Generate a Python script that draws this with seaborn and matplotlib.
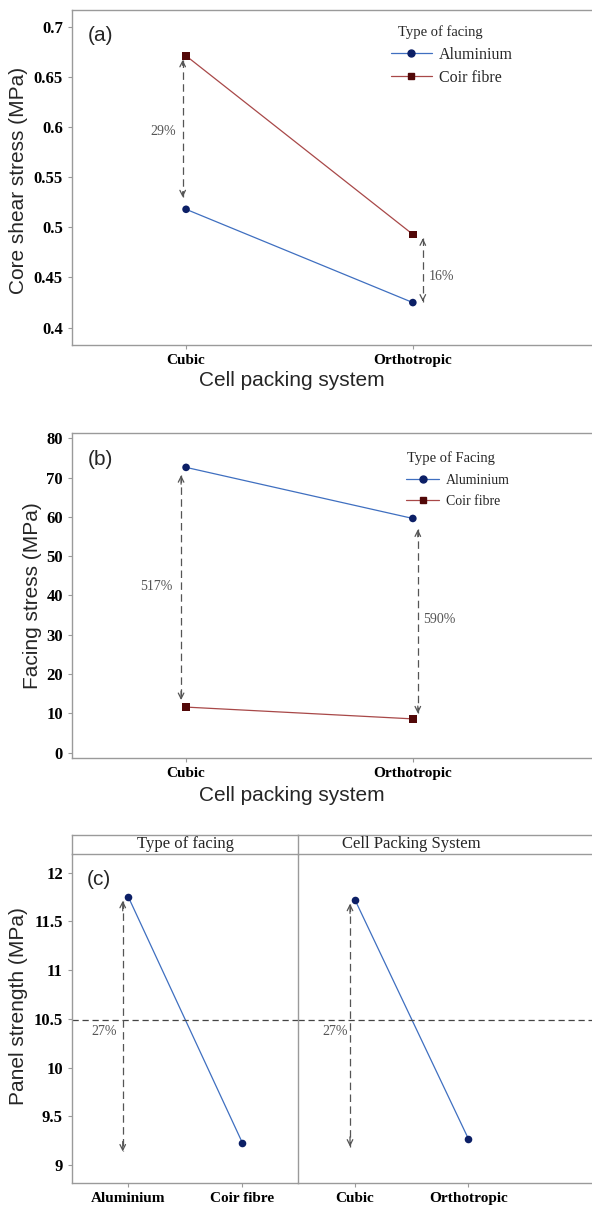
import numpy as np
import pandas as pd
import matplotlib
matplotlib.use("Agg")
import matplotlib.pyplot as plt
from matplotlib.lines import Line2D
import seaborn as sns

# ===== DATA =====
packing = ["Cubic", "Orthotropic"]
facings = ["Aluminium", "Coir fibre"]

core_shear_al = [0.518, 0.425]
core_shear_coir = [0.671, 0.493]

facing_stress_al = [72.6, 59.6]
facing_stress_coir = [11.6, 8.6]

panel_by_facing = [11.75, 9.23]
panel_by_packing = [11.72, 9.27]

pct_a = ["29%", "16%"]
pct_b = ["517%", "590%"]
pct_c = ["27%", "27%"]

# ===== STYLE =====
sns.set_style("ticks")
SERIF = ["Liberation Serif", "DejaVu Serif"]
SANS = ["Liberation Sans", "DejaVu Sans"]
plt.rcParams["font.family"] = SERIF

line_pal = {"Aluminium": "#3f6fc0", "Coir fibre": "#a84848"}
mark_pal = {"Aluminium": "#0c1f66", "Coir fibre": "#520808"}
mark_shape = {"Aluminium": "o", "Coir fibre": "s"}
SPINE = "#9a9a9a"
ARROW = "#555555"

W, H = 592, 1206
fig = plt.figure(figsize=(W / 100, H / 100), dpi=100)


def fax(x0, y0, x1, y1):
    # pixel box -> figure axes
    return fig.add_axes([x0 / W, 1 - y1 / H, (x1 - x0) / W, (y1 - y0) / H])


def style_ax(ax):
    for s in ["left", "bottom", "top", "right"]:
        ax.spines[s].set_color(SPINE)
        ax.spines[s].set_linewidth(1.0)
    ax.tick_params(axis="both", colors=SPINE, length=3, width=0.8,
                   labelcolor="black")
    ax.tick_params(axis="x", labelsize=11)
    ax.tick_params(axis="y", labelsize=12)
    for lab in ax.get_xticklabels() + ax.get_yticklabels():
        lab.set_fontweight("bold")
        lab.set_family(SERIF)


def draw_pair(ax, df, yname):
    df = df.copy()
    df["pos"] = df["packing"].map({c: i for i, c in enumerate(packing)})
    sns.lineplot(data=df, x="pos", y=yname, hue="facing", palette=line_pal,
                 linewidth=0.9, legend=False, ax=ax, sort=False)
    sns.scatterplot(data=df, x="pos", y=yname, hue="facing", style="facing",
                    palette=mark_pal, markers=mark_shape, s=30, linewidth=0,
                    legend=False, ax=ax, zorder=3)
    ax.set_xticks(range(len(packing)))
    ax.set_xticklabels(packing)


def darrow(ax, x, y0, y1):
    ax.plot([x, x], [y0, y1], color=ARROW, lw=0.9, ls=(0, (6, 3.5)))
    for a, b in [(y0, y1), (y1, y0)]:
        ax.annotate("", xy=(x, b), xytext=(x, b + (a - b) * 0.04),
                    arrowprops=dict(arrowstyle="->", color=ARROW, lw=0.9,
                                    mutation_scale=10, shrinkA=0, shrinkB=0))


def legend(ax, title, tx, ty, lx, ly, size, hlen, spacing):
    fig.text(tx / W, 1 - ty / H, title, fontsize=10.5, va="center",
             ha="left")
    handles = [Line2D([], [], color=line_pal[f], lw=0.9, marker=mark_shape[f],
                      markersize=5, markerfacecolor=mark_pal[f],
                      markeredgecolor=mark_pal[f]) for f in facings]
    ax.legend(handles, facings, loc="upper left",
              bbox_to_anchor=(lx / W, 1 - ly / H),
              bbox_transform=fig.transFigure, frameon=False, fontsize=size,
              handlelength=hlen, handletextpad=0.45, labelspacing=spacing,
              borderpad=0, borderaxespad=0)


# ===== (a) =====
df_a = pd.DataFrame({
    "packing": packing * 2,
    "facing": [facings[0]] * 2 + [facings[1]] * 2,
    "shear": core_shear_al + core_shear_coir,
})
ax_a = fax(72, 9.5, 604, 345)
draw_pair(ax_a, df_a, "shear")
ax_a.set_xlim(-0.503, 1.843)
ax_a.set_ylim(0.3827, 0.7172)
ax_a.set_yticks(np.arange(0.4, 0.701, 0.05))
ax_a.set_yticklabels(["0.4", "0.45", "0.5", "0.55", "0.6", "0.65", "0.7"])
style_ax(ax_a)
ax_a.set_xlabel("Cell packing system", family=SANS, fontsize=15)
ax_a.set_ylabel("Core shear stress (MPa)", family=SANS, fontsize=15)
ax_a.xaxis.set_label_coords(0.413, -0.078)
ax_a.yaxis.set_label_coords(-0.083, 0.49)
ax_a.text(0.03, 0.95, "(a)", transform=ax_a.transAxes, family=SANS,
          fontsize=15, va="top")
darrow(ax_a, -0.015, core_shear_coir[0] - 0.004, core_shear_al[0] + 0.012)
darrow(ax_a, 1.044, core_shear_coir[1] - 0.004, core_shear_al[1] + 0.001)
ax_a.text(-0.045, 0.596, pct_a[0], ha="right", va="center", color=ARROW,
          fontsize=10)
ax_a.text(1.07, 0.451, pct_a[1], ha="left", va="center", color=ARROW,
          fontsize=10)
legend(ax_a, "Type of facing", 398, 32, 391, 47, 11.5, 2.55, 0.42)

# ===== (b) =====
df_b = pd.DataFrame({
    "packing": packing * 2,
    "facing": [facings[0]] * 2 + [facings[1]] * 2,
    "stress": facing_stress_al + facing_stress_coir,
})
ax_b = fax(72, 433.3, 604, 758.3)
draw_pair(ax_b, df_b, "stress")
ax_b.set_xlim(-0.503, 1.843)
ax_b.set_ylim(-1.43, 81.27)
ax_b.set_yticks(range(0, 81, 10))
style_ax(ax_b)
ax_b.set_xlabel("Cell packing system", family=SANS, fontsize=15)
ax_b.set_ylabel("Facing stress (MPa)", family=SANS, fontsize=15)
ax_b.xaxis.set_label_coords(0.413, -0.085)
ax_b.yaxis.set_label_coords(-0.056, 0.5)
ax_b.text(0.03, 0.95, "(b)", transform=ax_b.transAxes, family=SANS,
          fontsize=15, va="top")
darrow(ax_b, -0.022, facing_stress_al[0] - 2.0, facing_stress_coir[0] + 1.8)
darrow(ax_b, 1.022, facing_stress_al[1] - 2.8, facing_stress_coir[1] + 1.4)
ax_b.text(-0.06, 42.4, pct_b[0], ha="right", va="center", color=ARROW,
          fontsize=10)
ax_b.text(1.045, 33.9, pct_b[1], ha="left", va="center", color=ARROW,
          fontsize=10)
legend(ax_b, "Type of Facing", 407, 458, 406, 474, 10, 2.4, 0.55)

# ===== (c) =====
ax_c1 = fax(72, 854, 298.3, 1182.7)
ax_c2 = fax(298.3, 854, 604, 1182.7)
strip1 = fax(72, 835, 298.3, 854)
strip2 = fax(298.3, 835, 604, 854)

main_effects = [(ax_c1, facings, panel_by_facing, (-0.494, 1.491)),
                (ax_c2, packing, panel_by_packing, (-0.5, 2.196))]
grand_mean = np.mean(panel_by_facing)
for ax, cats, vals, xl in main_effects:
    dfc = pd.DataFrame({"level": cats, "strength": vals,
                        "pos": range(len(cats))})
    sns.lineplot(data=dfc, x="pos", y="strength", color=line_pal["Aluminium"],
                 linewidth=0.9, ax=ax)
    sns.scatterplot(data=dfc, x="pos", y="strength",
                    color=mark_pal["Aluminium"], s=30, linewidth=0, ax=ax,
                    zorder=3)
    ax.axhline(grand_mean, color="#444444", lw=0.9, ls=(0, (5, 3)))
    ax.set_xticks(range(len(cats)))
    ax.set_xticklabels(cats)
    ax.set_xlim(*xl)
    ax.set_ylim(8.82, 12.19)
    ax.set_xlabel("")
    ax.set_ylabel("")
    style_ax(ax)
    ax.spines["top"].set_visible(False)

ax_c1.set_yticks([9, 9.5, 10, 10.5, 11, 11.5, 12])
ax_c1.set_yticklabels(["9", "9.5", "10", "10.5", "11", "11.5", "12"])
for lab in ax_c1.get_yticklabels():
    lab.set_fontweight("bold")
ax_c1.spines["right"].set_visible(False)
ax_c2.tick_params(axis="y", left=False, labelleft=False)
ax_c1.set_ylabel("Panel strength (MPa)", family=SANS, fontsize=15)
ax_c1.yaxis.set_label_coords(-0.194, 0.537)
ax_c1.text(0.065, 0.95, "(c)", transform=ax_c1.transAxes, family=SANS,
           fontsize=15, va="top")

darrow(ax_c1, -0.049, panel_by_facing[0] - 0.04, 9.14)
darrow(ax_c2, -0.044, panel_by_packing[0] - 0.04, 9.19)
ax_c1.text(-0.10, 10.37, pct_c[0], ha="right", va="center", color=ARROW,
           fontsize=10)
ax_c2.text(-0.06, 10.37, pct_c[1], ha="right", va="center", color=ARROW,
           fontsize=10)

for st in [strip1, strip2]:
    st.set_xticks([])
    st.set_yticks([])
    for s in st.spines.values():
        s.set_color(SPINE)
        s.set_linewidth(1.0)
strip1.spines["right"].set_visible(False)
strip1.text(0.5, 0.5, "Type of facing", transform=strip1.transAxes,
            ha="center", va="center", fontsize=12)
strip2.text((411.7 - 298.3) / (604 - 298.3), 0.5, "Cell Packing System",
            transform=strip2.transAxes, ha="center", va="center", fontsize=12)

fig.savefig("out.png", dpi=100)
